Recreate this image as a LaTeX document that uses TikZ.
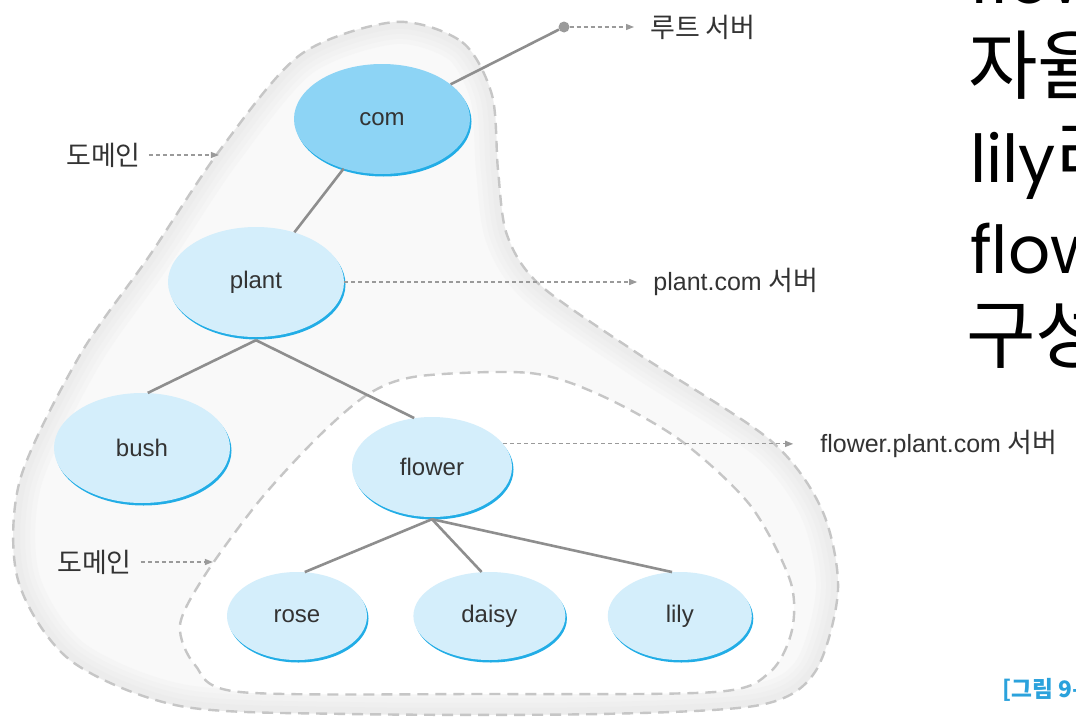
\documentclass[tikz,border=0pt]{standalone}
\usepackage{fontspec}
\setmainfont{Liberation Sans}
\newfontfamily\krfont[Scale=1.08]{Noto Sans CJK KR}
\newfontfamily\bigfont{Poppins}
\usetikzlibrary{arrows.meta, positioning, shapes.geometric, shadows}

\definecolor{comblue}{HTML}{8DD4F5}
\definecolor{leafblue}{HTML}{D4EEFB}
\definecolor{rimblue}{HTML}{22ADE6}
\definecolor{branchgray}{HTML}{8E8E8E}
\definecolor{zonegray}{HTML}{C6C6C6}
\definecolor{zonefill}{HTML}{F9F9F9}
\definecolor{zoneshade}{HTML}{E0E0E0}
\definecolor{pointgray}{HTML}{9A9A9A}
\definecolor{labelgray}{HTML}{333333}
\definecolor{captionblue}{HTML}{2BA2DC}

\tikzset{
  host/.style={ellipse, fill=leafblue, text=labelgray, inner sep=0pt,
    font=\fontsize{24}{28}\selectfont,
    drop shadow={shadow xshift=1.5pt, shadow yshift=-2.5pt, fill=rimblue, opacity=1}},
  branch/.style={draw=branchgray, line width=2.6pt},
  pointer/.style={draw=pointgray, line width=1.2pt, dash pattern=on 4pt off 3pt,
    -{Triangle[length=8pt,width=6pt]}},
  zoneline/.style={draw=zonegray, line width=2.4pt, dash pattern=on 11pt off 7pt},
  tag/.style={text=labelgray, font=\fontsize{25}{29}\selectfont, inner sep=0pt, anchor=west},
  bigline/.style={inner sep=0pt, anchor=base west, text=black}
}

% outlines of the two domains
\newcommand\outerzone{plot[smooth cycle] coordinates {(395,22) (462,42) (492,95) (498,170)
  (507,235) (540,285) (640,355) (770,440) (822,510) (838,590) (815,672) (760,705)
  (600,714) (350,714) (180,706) (70,660) (18,580) (20,480) (80,355) (150,255)
  (220,150) (300,55)}}
\newcommand\innerzone{plot[smooth cycle] coordinates {(420,376) (530,373) (600,395)
  (680,440) (750,505) (790,580) (792,630) (770,672) (715,692) (480,694) (240,692)
  (195,665) (180,625) (205,575) (260,500) (320,435) (370,393)}}

\begin{document}
\begin{tikzpicture}[x=1pt, y=-1pt]
\clip (0,0) rectangle (1076,720);
\fill[white] (0,0) rectangle (1076,720);

% domains
\fill[zonefill] \outerzone;
\begin{scope}
  \clip \outerzone;
  \foreach \w in {44,34,24,14}
    \draw[line width=\w pt, zoneshade, opacity=.14] \outerzone;
\end{scope}
\draw[zoneline] \outerzone;
\fill[white] \innerzone;
\draw[zoneline] \innerzone;

% name servers
\node[host, fill=comblue, minimum width=176pt, minimum height=110pt] (com) at (382,119) {com};
\node[host, minimum width=176pt, minimum height=110pt] (plant) at (256,282) {plant};
\node[host, minimum width=176pt, minimum height=110pt] (bush) at (142,448) {bush};
\node[host, minimum width=160pt, minimum height=100pt] (flower) at (432,467) {flower};
\node[host, minimum width=140pt, minimum height=88pt] (rose) at (297,616) {rose};
\node[host, minimum width=152pt, minimum height=88pt, right=46pt of rose] (daisy) {daisy};
\node[host, minimum width=144pt, minimum height=88pt, right=42pt of daisy] (lily) {lily};
\node[circle, fill=pointgray, minimum size=11pt, inner sep=0pt] (rootdot) at (564,27) {};

% tree
\coordinate (plantfoot) at ([yshift=-3pt]plant.south);
\coordinate (flowerfoot) at ([yshift=-2pt]flower.south);
\draw[branch] (com) -- (rootdot);
\draw[branch] (com) -- (plant);
\draw[branch] (plantfoot) -- (bush.84);
\draw[branch] (plantfoot) -- (flower.110);
\draw[branch] (flowerfoot) -- (rose.80);
\draw[branch] (flowerfoot) -- (daisy.100);
\draw[branch] (flowerfoot) -- (lily.100);

% labels
\draw[pointer] (rootdot) -- ++(70,0) coordinate (roottip);
\node[tag, right=16pt of roottip] (roottag) {\krfont 루트 서버};
\draw[pointer] (plant.east) -- ++(293,0) coordinate (planttip);
\node[tag, right=16pt of planttip] (planttag) {plant.com {\krfont 서버}};
\draw[pointer] (flower.18) -- ++(290,0) coordinate (flowertip);
\node[tag, right=27pt of flowertip] (flowertag) {flower.plant.com {\krfont 서버}};
\node[tag] (zonetag) at (66,155) {\krfont 도메인};
\draw[pointer] ([xshift=8pt]zonetag.east) -- ++(70,0);
\node[tag] (subzonetag) at (57,562) {\krfont 도메인};
\draw[pointer] ([xshift=9pt]subzonetag.east) -- ++(72,0);

% slide text cut off at the right
\node[bigline, font=\bigfont\fontsize{66}{70}\selectfont] (line1) at (970,4) {flower};
\node[bigline, font=\krfont\fontsize{70}{76}\selectfont] (line2) at (968,93) {자율};
\node[bigline, font=\bigfont\fontsize{66}{70}\selectfont] (line3) at (970,182) {lily{\krfont\fontsize{70}{76}\selectfont 라}};
\node[bigline, font=\bigfont\fontsize{66}{70}\selectfont] (line4) at (970,273) {flower};
\node[bigline, font=\krfont\fontsize{70}{76}\selectfont] (line5) at (966,362) {구성};
\node[tag, text=captionblue, font=\krfont\bfseries\fontsize{21}{26}\selectfont] (figcap) at (1002,690) {[그림 9-1]};
\end{tikzpicture}
\end{document}
